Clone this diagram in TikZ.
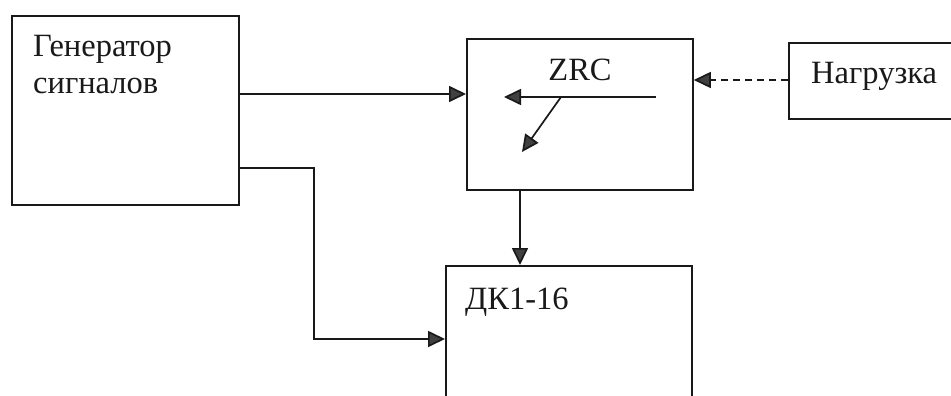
\documentclass[tikz,border=0pt]{standalone}
\usepackage{fontspec}
\setmainfont{Liberation Serif}
\usetikzlibrary{arrows.meta,calc}
\begin{document}
\begin{tikzpicture}[x=1pt,y=-1pt,
  box/.style={draw=black!90, line width=1.8pt, anchor=north west, inner sep=0pt},
  lbl/.style={anchor=base west, inner sep=0pt, font=\fontsize{32.5}{38}\selectfont, text=black!90},
  arr/.style={draw=black!90, line width=1.7pt, -{Triangle[length=17pt,width=16pt,fill=black!75]}},
  darr/.style={arr, dash pattern=on 7pt off 5pt}]
\useasboundingbox (0,0) rectangle (951,396);
\clip (0,0) rectangle (951,396);
% boxes
\node[box, minimum width=227pt, minimum height=189pt] (gen) at (11,15) {};
\node[box, minimum width=226pt, minimum height=151pt] (zrc) at (466,38) {};
\node[box, minimum width=200pt, minimum height=76pt] (load) at (788,42) {};
\node[box, minimum width=246pt, minimum height=170pt] (dk) at (445,265) {};
% labels
\node[lbl] (t1) at (33,57) {Генератор};
\node[lbl] (t2) at (33,94) {сигналов};
\node[lbl, anchor=base] (t3) at (580,81) {ZRC};
\node[lbl] (t4) at (811,84) {Нагрузка};
\node[lbl] (t5) at (465,309) {ДК1-16};
% connectors
\coordinate (g1) at ($(gen.north east)+(0,79)$);
\draw[arr] (g1) -- (g1 -| zrc.west);
\coordinate (g2) at ($(gen.north east)+(0,153)$);
\coordinate (bend) at ($(g2)+(74,0)$);
\coordinate (g3) at ($(bend)+(0,171)$);
\draw[arr] (g2) -- (bend) -- (g3) -- (g3 -| dk.west);
\coordinate (z1) at ($(zrc.south west)+(54,0)$);
\draw[arr] (z1) -- (z1 |- dk.north);
\coordinate (l1) at ($(load.north west)+(0,38)$);
\draw[darr] (l1) -- (l1 -| zrc.east);
% inner arrows of ZRC
\coordinate (i1) at (656,97);
\coordinate (i2) at (504,97);
\coordinate (i3) at (561,97);
\coordinate (i4) at (522,152);
\draw[arr] (i1) -- (i2);
\draw[arr] (i3) -- (i4);
\end{tikzpicture}
\end{document}
